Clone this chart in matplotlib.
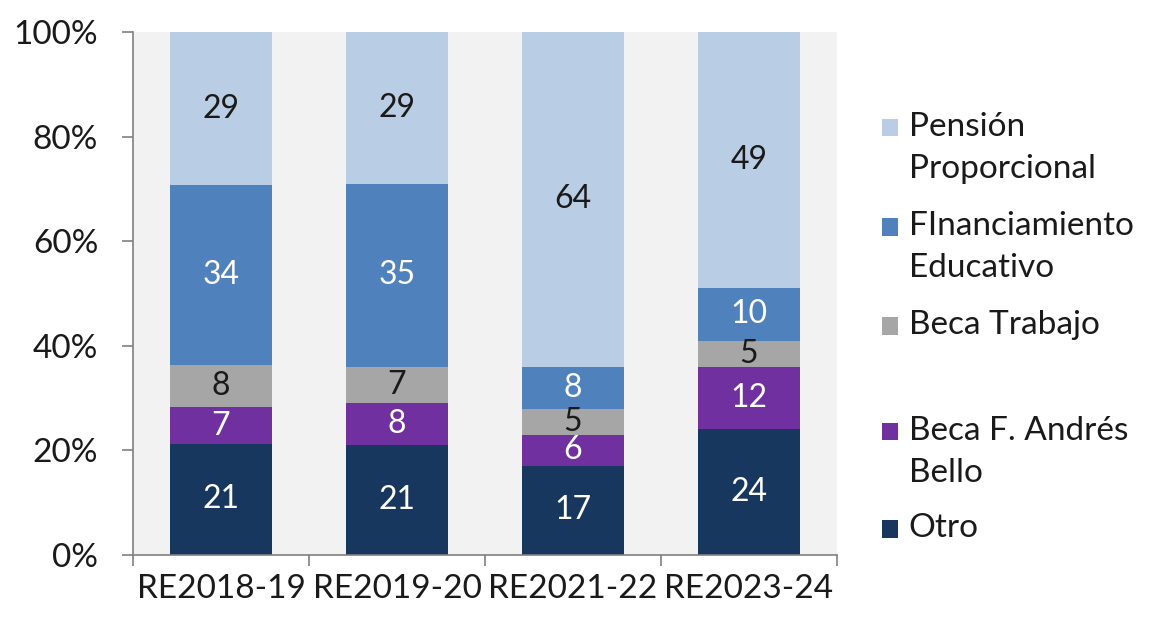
import numpy as np
import matplotlib
matplotlib.use("Agg")
import matplotlib.pyplot as plt
from matplotlib.patches import Rectangle

plt.rcParams['font.family'] = ['Lato', 'DejaVu Sans']
plt.rcParams['text.color'] = '#1a1a1a'
plt.rcParams['xtick.labelcolor'] = '#1a1a1a'
plt.rcParams['ytick.labelcolor'] = '#1a1a1a'

categories = ["RE2018-19", "RE2019-20", "RE2021-22", "RE2023-24"]
otro = [21, 21, 17, 24]
andres_bello = [7, 8, 6, 12]
beca_trabajo = [8, 7, 5, 5]
financiamiento = [34, 35, 8, 10]
pension = [29, 29, 64, 49]

series = [
    ("Otro", otro, "#17375e", "white"),
    ("Beca F. Andrés\nBello", andres_bello, "#7030a0", "white"),
    ("Beca Trabajo", beca_trabajo, "#a6a6a6", "#1a1a1a"),
    ("FInanciamiento\nEducativo", financiamiento, "#4f81bd", "white"),
    ("Pensión\nProporcional", pension, "#b9cde5", "#1a1a1a"),
]

data = np.array([s[1] for s in series], dtype=float)
totals = data.sum(axis=0)
shares = data / totals * 100

fig = plt.figure(figsize=(11.56, 6.2), dpi=100)
ax = fig.add_axes([0.115, 0.105, 0.609, 0.843])
ax.set_facecolor("#f2f2f2")

x = np.arange(len(categories))
bottom = np.zeros(len(categories))
for i, (name, vals, color, tc) in enumerate(series):
    ax.bar(x, shares[i], bottom=bottom, width=0.58, color=color, edgecolor="none")
    for j, v in enumerate(vals):
        ax.text(x[j], bottom[j] + shares[i][j] / 2, str(v), ha="center", va="center",
                fontsize=23, color=tc)
    bottom += shares[i]

ax.set_xlim(-0.5, len(categories) - 0.5)
ax.set_ylim(0, 100)
ax.set_yticks(np.arange(0, 101, 20))
ax.set_yticklabels([f"{v}%" for v in range(0, 101, 20)], fontsize=24)
ax.set_xticks(x)
ax.set_xticklabels(categories, fontsize=24)
ax.set_xticks(np.arange(-0.5, len(categories), 1), minor=True)
ax.tick_params(axis="x", which="major", length=0, pad=14)
ax.tick_params(axis="x", which="minor", length=8, color="#808080", width=1.2)
ax.tick_params(axis="y", length=8, color="#808080", width=1.2, pad=17)
for sp in ["top", "right"]:
    ax.spines[sp].set_visible(False)
for sp in ["left", "bottom"]:
    ax.spines[sp].set_color("#808080")
    ax.spines[sp].set_linewidth(1.2)

# legend, placed entry by entry to follow the reference spacing
legend_y = [0.795, 0.635, 0.475, 0.305, 0.148]
legend_order = [4, 3, 2, 1, 0]
for yy, idx in zip(legend_y, legend_order):
    name, vals, color, tc = series[idx]
    fig.patches.append(Rectangle((0.763, yy - 0.015), 0.014, 0.028, transform=fig.transFigure,
                                 facecolor=color, edgecolor="none"))
    lines = name.split("\n")
    for k, ln in enumerate(lines):
        fig.text(0.786, yy - k * 0.068, ln, fontsize=24, va="center", ha="left")

fig.savefig("out.png", dpi=100)
